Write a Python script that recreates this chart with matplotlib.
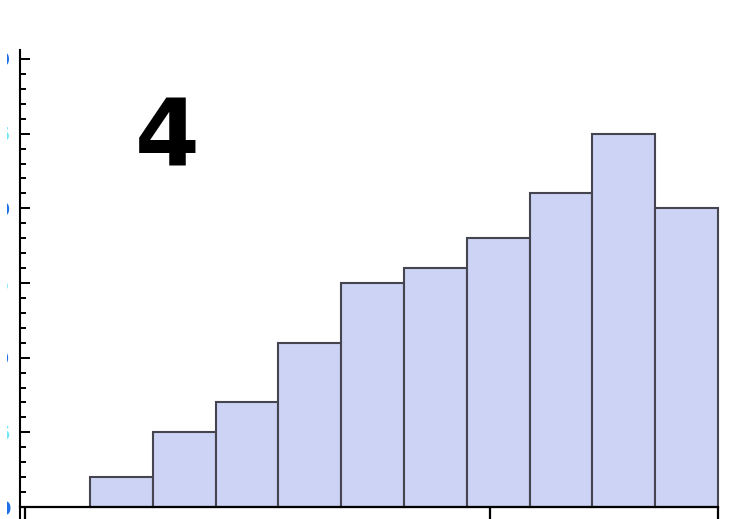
import numpy as np
import matplotlib
matplotlib.use("Agg")
import matplotlib.pyplot as plt
from matplotlib.ticker import MultipleLocator
from matplotlib.transforms import Bbox, TransformedBbox

# Histogram counts per bin (bins of unit width starting at 0)
bin_edges = np.arange(0, 11)
counts = [2, 5, 7, 11, 15, 16, 18, 21, 25, 20]
y_major = [0, 5, 10, 15, 20, 25, 30]
y_labels = ["0", "5", "10", "15", "20", "25", "30"]
x_tick_pos = [-1.03, 6.37, 10]
panel_label = "4"

W, H = 748, 519
fig = plt.figure(figsize=(W / 100, H / 100), dpi=100)
ax = fig.add_axes([20 / W, 0, 698 / W, 469 / H])

ax.bar(bin_edges[:-1], counts, width=1, align="edge",
       color="#ccd3f4", edgecolor="#45454f", linewidth=1.5, clip_on=False, zorder=2)

ax.set_xlim(-1.115, 10)
ax.set_ylim(-0.80, 30.6)

for s in ("top", "right"):
    ax.spines[s].set_visible(False)
ax.spines["left"].set_linewidth(1.5)
ax.spines["bottom"].set_position(("data", 0))
ax.spines["bottom"].set_linewidth(1.6)
ax.spines["bottom"].set_zorder(3)

# y axis: inward ticks; the labels sit in a narrow strip at the left edge
ax.set_yticks(y_major)
ax.set_yticklabels(y_labels, fontsize=14, fontweight="bold")
ax.yaxis.set_minor_locator(MultipleLocator(1))
ax.tick_params(axis="y", which="major", direction="in", length=7.5, width=1.4, pad=7.0)
ax.tick_params(axis="y", which="minor", direction="in", length=4, width=1.4)
label_strip = TransformedBbox(Bbox([[7 / W, 0], [11 / W, 1]]), fig.transFigure)
for i, lab in enumerate(ax.get_yticklabels()):
    lab.set_color("#1f6fe8" if i % 2 == 0 else "#6fe6f7")
    lab.set_clip_box(label_strip)
    lab.set_clip_on(True)

# x axis: a few downward ticks, no labels
ax.set_xticks(x_tick_pos)
ax.tick_params(axis="x", which="major", direction="out", length=9, width=1.6,
               labelbottom=False)
tick_colors = ["black", "#8a8a8a", "black"]
for t, c in zip(ax.xaxis.get_major_ticks(), tick_colors):
    t.tick1line.set_color(c)

fig.text(167 / W, 1 - 140 / H, panel_label, fontsize=67, fontweight="bold",
         family="DejaVu Sans", ha="center", va="center", color="black")

fig.savefig("out.png", dpi=100, facecolor="white")
